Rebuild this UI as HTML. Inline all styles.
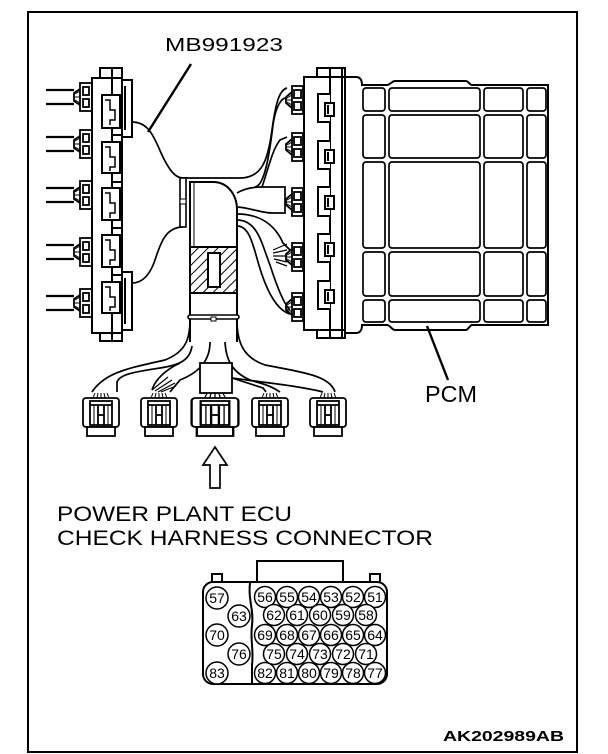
<!DOCTYPE html>
<html><head><meta charset="utf-8"><style>
html,body{margin:0;padding:0;background:#fff}
svg{display:block}
text{font-family:"Liberation Sans",sans-serif;fill:#000}
</style></head><body>
<svg width="608" height="754" viewBox="0 0 608 754" xmlns="http://www.w3.org/2000/svg">
<defs>
<pattern id="h" width="7" height="7" patternUnits="userSpaceOnUse" patternTransform="rotate(45)">
<rect width="7" height="7" fill="#fff"/><line x1="0" y1="0" x2="0" y2="7" stroke="#000" stroke-width="2"/>
</pattern>
<g id="lplug" fill="#fff" stroke="#000" stroke-width="1.8">
<rect x="80" y="-14" width="12" height="28"/>
<rect x="83" y="-10" width="6" height="8"/><rect x="83" y="2" width="6" height="8"/>
<path d="M80,-8 L74,-4 L74,4 L80,8" fill="none"/>
<path d="M75,-3 L80,-6 M75,0 L80,0 M75,3 L80,6" stroke-width="1"/>
</g>
<g id="rplug" fill="#fff" stroke="#000" stroke-width="1.8">
<rect x="292" y="-14" width="11" height="28"/>
<rect x="294" y="-10" width="7" height="8"/><rect x="294" y="2" width="7" height="8"/>
<path d="M292,-8 L286,-3 L286,3 L292,8" fill="none"/>
<path d="M287,-2 L292,-5 M287,0 L292,0 M287,2 L292,5" stroke-width="1"/>
<rect x="308" y="7" width="5" height="4"/><rect x="308" y="12" width="5" height="4"/>
</g>
<g id="bconn" fill="#fff" stroke="#000" stroke-width="1.8">
<rect x="-18" y="0" width="36" height="29" rx="3"/>
<rect x="-14" y="29" width="28" height="9"/>
<rect x="-11" y="3" width="22" height="24" fill="none"/>
<line x1="-11" y1="7" x2="11" y2="7"/><line x1="-3" y1="7" x2="-3" y2="27"/><line x1="3" y1="7" x2="3" y2="27"/>
<line x1="-3" y1="17" x2="3" y2="17"/>
<line x1="-7" y1="7" x2="-7" y2="27" stroke-width="1"/><line x1="7" y1="7" x2="7" y2="27" stroke-width="1"/>
<path d="M-8,0 L-6,-5 M-4,0 L-3,-5 M0,0 L0,-5 M4,0 L3,-5 M8,0 L6,-5" fill="none" stroke-width="1"/>
</g>
</defs>

<rect x="28" y="12" width="549" height="740" fill="none" stroke="#000" stroke-width="2"/>

<text x="165" y="51" font-size="18" textLength="118" lengthAdjust="spacingAndGlyphs">MB991923</text>
<line x1="191" y1="64" x2="148" y2="132" stroke="#000" stroke-width="2.4"/>

<g stroke="#000" stroke-width="2.2">
<line x1="46" y1="90" x2="74" y2="90"/><line x1="46" y1="104" x2="74" y2="104"/>
<line x1="46" y1="137" x2="74" y2="137"/><line x1="46" y1="151" x2="74" y2="151"/>
<line x1="46" y1="188" x2="74" y2="188"/><line x1="46" y1="202" x2="74" y2="202"/>
<line x1="46" y1="245" x2="74" y2="245"/><line x1="46" y1="259" x2="74" y2="259"/>
<line x1="46" y1="296" x2="74" y2="296"/><line x1="46" y1="310" x2="74" y2="310"/>
</g>
<use href="#lplug" y="97"/><use href="#lplug" y="144"/><use href="#lplug" y="195"/><use href="#lplug" y="252"/><use href="#lplug" y="303"/>

<g fill="#fff" stroke="#000" stroke-width="2">
<rect x="100" y="68" width="22" height="10"/>
<rect x="100" y="333" width="22" height="8"/>
<rect x="92" y="78" width="30" height="255"/>
<line x1="112" y1="68" x2="112" y2="341"/>
<rect x="122" y="80" width="10" height="57"/>
<rect x="122" y="272" width="10" height="58"/>
<path d="M125,86 L125,130 M125,278 L125,324" fill="none"/>
<rect x="102" y="95" width="18" height="33"/><rect x="102" y="142" width="18" height="31"/><rect x="102" y="188" width="18" height="32"/><rect x="102" y="235" width="18" height="32"/><rect x="102" y="282" width="18" height="31"/>
<path d="M105,100 h5 v10 h5 v10 h-5 v5 M105,147 h5 v10 h5 v10 h-5 v4 M105,193 h5 v10 h5 v10 h-5 v5 M105,240 h5 v10 h5 v10 h-5 v5 M105,287 h5 v10 h5 v10 h-5 v4" fill="none" stroke-width="1.5"/>
<path d="M112,135 h10 M112,182 h10 M112,228 h10 M112,275 h10" fill="none"/>
</g>

<g fill="none" stroke="#000" stroke-width="1.7">
<path d="M132,122 C150,122 155,140 162,155 C170,172 176,178 183,178 L240,178 C262,178 268,160 272,130 C276,100 280,90 287,88"/>
<path d="M255,187 C265,186 270,150 273,125 C276,105 282,97 287,98"/>
<path d="M262,187 C268,170 272,150 280,140 L287,137"/>
<path d="M237,193 C245,188 255,187 262,187 L285,187 L285,213 L272,213 C262,213 250,208 238,207"/>
<path d="M237,214 C260,214 275,225 283,243 L290,250"/>
<path d="M237,220 C258,220 262,245 270,265 C278,290 285,305 290,310"/>
<path d="M237,226 C248,226 252,240 258,262 C266,290 276,310 290,314"/>
<path d="M183,227 C165,227 160,245 155,260 C150,275 142,283 132,283"/>
</g>
<g stroke="#000" stroke-width="1.2"><path d="M273,250 L287,244 M273,253 L287,250 M273,256 L287,256 M274,259 L287,262 M276,262 L287,266"/></g>

<rect x="180" y="178" width="6" height="49" fill="#fff" stroke="#000" stroke-width="1.6"/>
<rect x="180" y="199" width="6" height="5" fill="#fff" stroke="#000" stroke-width="1"/>

<path d="M190,342 L190,182 L213,182 C228,182 237,195 237,210 L237,342" fill="#fff" stroke="#000" stroke-width="2"/>
<line x1="194" y1="182" x2="194" y2="247" stroke="#000" stroke-width="1"/>
<rect x="190" y="247" width="47" height="46" fill="url(#h)" stroke="#000" stroke-width="2"/>
<rect x="208" y="253" width="12" height="34" fill="#fff" stroke="#000" stroke-width="2"/>
<rect x="188" y="315" width="51" height="4" rx="2" fill="#fff" stroke="#000" stroke-width="1.6"/>
<rect x="211" y="317" width="5" height="4" fill="#fff" stroke="#000" stroke-width="1"/>

<use href="#rplug" y="100"/><use href="#rplug" y="147"/><use href="#rplug" y="202"/><use href="#rplug" y="257"/><use href="#rplug" y="307"/>

<g fill="#fff" stroke="#000" stroke-width="2">
<rect x="317" y="68" width="28" height="10"/>
<rect x="304" y="77" width="41" height="253"/>
<rect x="317" y="330" width="28" height="8"/>
<line x1="330" y1="68" x2="330" y2="338"/><line x1="342" y1="68" x2="342" y2="338"/>
<path d="M330,94 h-12 v28 h12 M330,141 h-12 v28 h12 M330,187 h-12 v29 h12 M330,234 h-12 v28 h12 M330,281 h-12 v28 h12" />
<rect x="325" y="103" width="9" height="13"/><rect x="325" y="150" width="9" height="13"/><rect x="325" y="196" width="9" height="13"/><rect x="325" y="243" width="9" height="13"/><rect x="325" y="290" width="9" height="13"/>
</g>
<g fill="#000"><rect x="327" y="105" width="2" height="9"/><rect x="327" y="152" width="2" height="9"/><rect x="327" y="198" width="2" height="9"/><rect x="327" y="245" width="2" height="9"/><rect x="327" y="292" width="2" height="9"/></g>

<path d="M345,77 L356,77 C360,77 362,80 362,85 L387,85 C390,85 392,81 395,81 L466,81 C468,81 470,85 472,85 L548,85 L548,325 L472,325 C470,325 468,330 466,330 L395,330 C392,330 390,325 387,325 L362,325 C362,330 360,333 356,333 L345,333 Z" fill="#fff" stroke="#000" stroke-width="2"/>
<g fill="none" stroke="#000" stroke-width="1.7">
<rect x="363" y="88" width="22" height="23" rx="3"/><rect x="389" y="88" width="91" height="23" rx="3"/><rect x="484" y="88" width="39" height="23" rx="3"/><rect x="527" y="88" width="19" height="23" rx="3"/>
<rect x="363" y="115" width="22" height="43" rx="3"/><rect x="389" y="115" width="91" height="43" rx="3"/><rect x="484" y="115" width="39" height="43" rx="3"/><rect x="527" y="115" width="19" height="43" rx="3"/>
<rect x="363" y="162" width="22" height="86" rx="3"/><rect x="389" y="162" width="91" height="86" rx="3"/><rect x="484" y="162" width="39" height="86" rx="3"/><rect x="527" y="162" width="19" height="86" rx="3"/>
<rect x="363" y="252" width="22" height="44" rx="3"/><rect x="389" y="252" width="91" height="44" rx="3"/><rect x="484" y="252" width="39" height="44" rx="3"/><rect x="527" y="252" width="19" height="44" rx="3"/>
<rect x="363" y="300" width="22" height="22" rx="3"/><rect x="389" y="300" width="91" height="22" rx="3"/><rect x="484" y="300" width="39" height="22" rx="3"/><rect x="527" y="300" width="19" height="22" rx="3"/>
</g>
<line x1="427" y1="326" x2="448" y2="380" stroke="#000" stroke-width="2.4"/>
<text x="425" y="402" font-size="23" textLength="52" lengthAdjust="spacingAndGlyphs">PCM</text>

<g fill="none" stroke="#000" stroke-width="1.7">
<path d="M190,320 C190,340 185,352 165,360 C130,368 105,372 92,392"/>
<path d="M192,346 C190,360 180,365 160,368 C135,372 120,374 117,382 L117,392"/>
<path d="M210,342 C210,360 200,372 180,380 L170,392"/>
<path d="M180,363 C165,370 155,380 152,390"/>
<path d="M225,342 C226,360 232,372 250,380 C262,384 270,385 280,392"/>
<path d="M237,320 C237,345 245,358 265,365 C300,372 330,375 335,392"/>
<path d="M232,378 L263,388 L266,392"/>
<path d="M232,378 C260,382 300,386 323,392"/>
</g>
<rect x="200" y="363" width="32" height="30" fill="#fff" stroke="#000" stroke-width="1.8"/>
<g stroke="#000" stroke-width="1.2"><path d="M152,390 L168,377 M155,391 L172,380 M158,392 L175,383 M161,392 L176,386"/></g>

<use href="#bconn" x="101" y="398"/>
<use href="#bconn" x="159" y="398"/>
<g transform="translate(215,398) scale(1.3,1)"><use href="#bconn"/></g>
<use href="#bconn" x="270" y="398"/>
<use href="#bconn" x="328" y="398"/>

<path d="M215,447 L227,465 L220,465 L220,488 L210,488 L210,465 L203,465 Z" fill="#fff" stroke="#000" stroke-width="1.7"/>

<text x="57" y="521" font-size="21" textLength="235" lengthAdjust="spacingAndGlyphs">POWER PLANT ECU</text>
<text x="57" y="545" font-size="21" textLength="376" lengthAdjust="spacingAndGlyphs">CHECK HARNESS CONNECTOR</text>

<g fill="#fff" stroke="#000" stroke-width="2">
<rect x="257" y="561" width="86" height="22"/>
<rect x="212" y="574" width="10" height="9"/>
<rect x="370" y="574" width="10" height="9"/>
<rect x="203" y="582" width="184" height="102" rx="10"/>
<path d="M250,583 C248,600 254,610 252,625 C250,640 254,650 252,665 L252,684" fill="none"/>
</g>
<g fill="#fff" stroke="#000" stroke-width="1.5">
<circle cx="217" cy="598" r="11"/><circle cx="239" cy="616" r="11"/><circle cx="217" cy="635" r="11"/><circle cx="239" cy="654" r="11"/><circle cx="217" cy="673" r="11"/>
<circle cx="265" cy="597" r="10.5"/><circle cx="287" cy="597" r="10.5"/><circle cx="309" cy="597" r="10.5"/><circle cx="331" cy="597" r="10.5"/><circle cx="353" cy="597" r="10.5"/><circle cx="375" cy="597" r="10.5"/>
<circle cx="274" cy="615" r="10.5"/><circle cx="297" cy="615" r="10.5"/><circle cx="320" cy="615" r="10.5"/><circle cx="343" cy="615" r="10.5"/><circle cx="366" cy="615" r="10.5"/>
<circle cx="265" cy="635" r="10.5"/><circle cx="287" cy="635" r="10.5"/><circle cx="309" cy="635" r="10.5"/><circle cx="331" cy="635" r="10.5"/><circle cx="353" cy="635" r="10.5"/><circle cx="375" cy="635" r="10.5"/>
<circle cx="274" cy="654" r="10.5"/><circle cx="297" cy="654" r="10.5"/><circle cx="320" cy="654" r="10.5"/><circle cx="343" cy="654" r="10.5"/><circle cx="366" cy="654" r="10.5"/>
<circle cx="265" cy="673" r="10.5"/><circle cx="287" cy="673" r="10.5"/><circle cx="309" cy="673" r="10.5"/><circle cx="331" cy="673" r="10.5"/><circle cx="353" cy="673" r="10.5"/><circle cx="375" cy="673" r="10.5"/>
</g>
<g font-size="14" text-anchor="middle">
<text x="217" y="603">57</text><text x="239" y="621">63</text><text x="217" y="640">70</text><text x="239" y="659">76</text><text x="217" y="678">83</text>
<text x="265" y="602">56</text><text x="287" y="602">55</text><text x="309" y="602">54</text><text x="331" y="602">53</text><text x="353" y="602">52</text><text x="375" y="602">51</text>
<text x="274" y="620">62</text><text x="297" y="620">61</text><text x="320" y="620">60</text><text x="343" y="620">59</text><text x="366" y="620">58</text>
<text x="265" y="640">69</text><text x="287" y="640">68</text><text x="309" y="640">67</text><text x="331" y="640">66</text><text x="353" y="640">65</text><text x="375" y="640">64</text>
<text x="274" y="659">75</text><text x="297" y="659">74</text><text x="320" y="659">73</text><text x="343" y="659">72</text><text x="366" y="659">71</text>
<text x="265" y="678">82</text><text x="287" y="678">81</text><text x="309" y="678">80</text><text x="331" y="678">79</text><text x="353" y="678">78</text><text x="375" y="678">77</text>
</g>

<text x="443" y="741" font-size="15" font-weight="bold" textLength="121" lengthAdjust="spacingAndGlyphs">AK202989AB</text>
</svg>
</body></html>
